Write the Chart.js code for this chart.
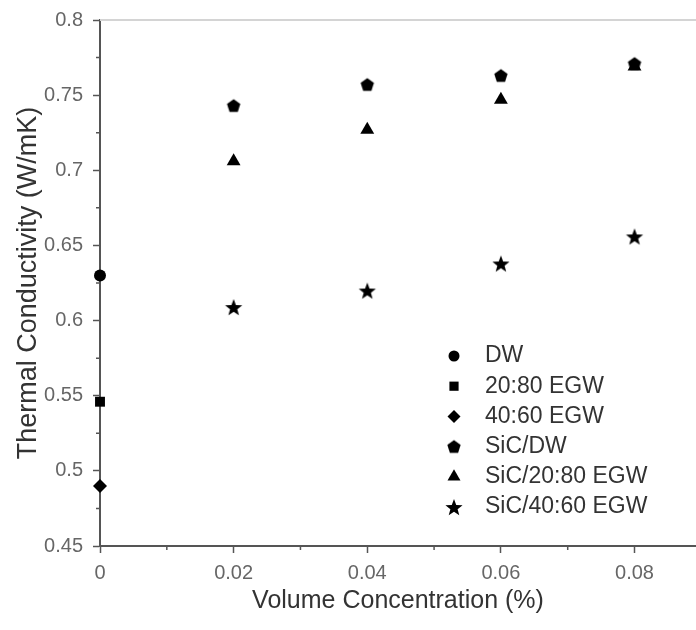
<!DOCTYPE html>
<html>
<head>
<meta charset="utf-8">
<script src="https://cdn.jsdelivr.net/npm/chart.js@4"></script>
<style>
  body { margin: 0; background: #fff; }
  #wrap { width: 696px; height: 630px; }
</style>
</head>
<body>
<div id="wrap"><canvas id="ScatterChart"></canvas></div>
<script>
// values
const seriesNames = ['DW', '20:80 EGW', '40:60 EGW', 'SiC/DW', 'SiC/20:80 EGW', 'SiC/40:60 EGW'];
const baseConc = [0];
const dw = [0.630];
const egw2080 = [0.546];
const egw4060 = [0.490];
const sicConc = [0.02, 0.04, 0.06, 0.08];
const sicDW = [0.743, 0.757, 0.763, 0.771];
const sic2080 = [0.706, 0.727, 0.747, 0.769];
const sic4060 = [0.609, 0.620, 0.638, 0.656];

const xTicks = [0, 0.02, 0.04, 0.06, 0.08];
const xMinor = [0.01, 0.03, 0.05, 0.07];
const yTicks = [0.45, 0.5, 0.55, 0.6, 0.65, 0.7, 0.75, 0.8];
const yMinor = [0.475, 0.525, 0.575, 0.625, 0.675, 0.725, 0.775];

const FONT = "'Liberation Sans', Arial, sans-serif";

// filled pentagon and star markers (chart.js has no filled ones)
function polyMarker(points, outer, inner) {
    const c = document.createElement('canvas');
    const s = Math.ceil(outer * 2 + 2);
    c.width = s; c.height = s;
    const g = c.getContext('2d');
    g.fillStyle = '#000';
    g.beginPath();
    const n = inner ? points * 2 : points;
    for (let i = 0; i < n; i++) {
        const r = inner && i % 2 ? inner : outer;
        const a = -Math.PI / 2 + i * 2 * Math.PI / n;
        const px = s / 2 + r * Math.cos(a);
        const py = s / 2 + r * Math.sin(a) + (inner ? 1 : 0.5);
        if (i === 0) g.moveTo(px, py); else g.lineTo(px, py);
    }
    g.closePath();
    g.fill();
    return c;
}
const pentagon = polyMarker(5, 7);
const star = polyMarker(5, 9, 3.8);

function pts(xs, ys) {
    return ys.map((y, i) => ({x: xs[i], y: y}));
}

const styles = [
    {pointStyle: 'circle', radius: 6},
    {pointStyle: 'rect', radius: 7},
    {pointStyle: 'rectRot', radius: 7},
    {pointStyle: pentagon, radius: 7},
    {pointStyle: 'triangle', radius: 8},
    {pointStyle: star, radius: 9}
];
const values = [
    pts(baseConc, dw), pts(baseConc, egw2080), pts(baseConc, egw4060),
    pts(sicConc, sicDW), pts(sicConc, sic2080), pts(sicConc, sic4060)
];

const data = {
    datasets: seriesNames.map((name, i) => ({
        label: name,
        data: values[i],
        pointStyle: styles[i].pointStyle,
        pointRadius: styles[i].radius,
        pointHoverRadius: styles[i].radius,
        pointBackgroundColor: '#000',
        pointBorderWidth: 0,
        showLine: false,
        clip: false
    }))
};

// legend inside the plot, lower right
const insideLegend = {
    id: 'insideLegend',
    afterDraw(chart) {
        const ctx = chart.ctx;
        const area = chart.chartArea;
        const mx = area.left + 354;
        const tx = area.left + 385;
        const y0 = area.top + 336;
        ctx.save();
        ctx.font = '23px ' + FONT;
        ctx.textBaseline = 'middle';
        seriesNames.forEach((name, i) => {
            const y = y0 + i * 30.2;
            ctx.fillStyle = '#000';
            ctx.strokeStyle = '#000';
            Chart.helpers.drawPoint(ctx, {
                pointStyle: styles[i].pointStyle,
                radius: styles[i].radius - 0.5,
                rotation: 0,
                borderWidth: 0
            }, mx, y);
            ctx.fillStyle = '#333';
            ctx.fillText(name, tx, y);
        });
        ctx.restore();
    }
};

// short minor ticks and the light top frame line
const axisExtras = {
    id: 'axisExtras',
    beforeDatasetsDraw(chart) {
        const ctx = chart.ctx;
        const area = chart.chartArea;
        const xs = chart.scales.x, ys = chart.scales.y;
        ctx.save();
        ctx.strokeStyle = '#d4d4d4';
        ctx.lineWidth = 2;
        ctx.beginPath();
        ctx.moveTo(area.left, area.top);
        ctx.lineTo(area.right, area.top);
        ctx.stroke();
        ctx.strokeStyle = '#555';
        ctx.lineWidth = 1.5;
        ctx.beginPath();
        xMinor.forEach(v => {
            const px = xs.getPixelForValue(v);
            ctx.moveTo(px, area.bottom);
            ctx.lineTo(px, area.bottom + 4);
        });
        yMinor.forEach(v => {
            const py = ys.getPixelForValue(v);
            ctx.moveTo(area.left, py);
            ctx.lineTo(area.left - 4, py);
        });
        ctx.stroke();
        ctx.restore();
    }
};

const config = {
    type: 'scatter',
    data: data,
    options: {
        responsive: true,
        maintainAspectRatio: false,
        animation: false,
        layout: {autoPadding: false, padding: {top: 20, right: 0, left: 0, bottom: 0}},
        plugins: {
            legend: {display: false},
            tooltip: {enabled: false}
        },
        scales: {
            x: {
                type: 'linear',
                min: 0,
                max: 0.0892,
                afterBuildTicks: scale => { scale.ticks = xTicks.map(v => ({value: v})); },
                afterFit: scale => {
                    scale.height = 84;
                    scale.paddingRight = 0;
                    scale.paddingLeft = 0;
                },
                border: {color: '#555', width: 2},
                grid: {drawOnChartArea: false, tickLength: 7, tickColor: '#555', tickWidth: 1.5},
                ticks: {
                    color: '#666',
                    padding: 8,
                    maxRotation: 0,
                    font: {family: FONT, size: 20},
                    callback: v => String(Math.round(v * 100) / 100)
                },
                title: {
                    display: true,
                    text: 'Volume Concentration (%)',
                    color: '#333',
                    padding: {top: 0, bottom: 14},
                    font: {family: FONT, size: 25}
                }
            },
            y: {
                type: 'linear',
                min: 0.45,
                max: 0.8,
                afterBuildTicks: scale => { scale.ticks = yTicks.map(v => ({value: v})); },
                afterFit: scale => {
                    scale.width = 100;
                    scale.paddingTop = 0;
                    scale.paddingBottom = 0;
                },
                border: {color: '#555', width: 2},
                grid: {drawOnChartArea: false, tickLength: 7, tickColor: '#555', tickWidth: 1.5},
                ticks: {
                    color: '#666',
                    padding: 10,
                    font: {family: FONT, size: 20},
                    callback: v => String(Math.round(v * 100) / 100)
                },
                title: {
                    display: true,
                    text: 'Thermal Conductivity (W/mK)',
                    color: '#333',
                    padding: {top: 12, bottom: 0},
                    font: {family: FONT, size: 27}
                }
            }
        }
    },
    plugins: [axisExtras, insideLegend]
};

const ctx = document.getElementById('ScatterChart');
new Chart(ctx, config);
</script>
</body>
</html>
